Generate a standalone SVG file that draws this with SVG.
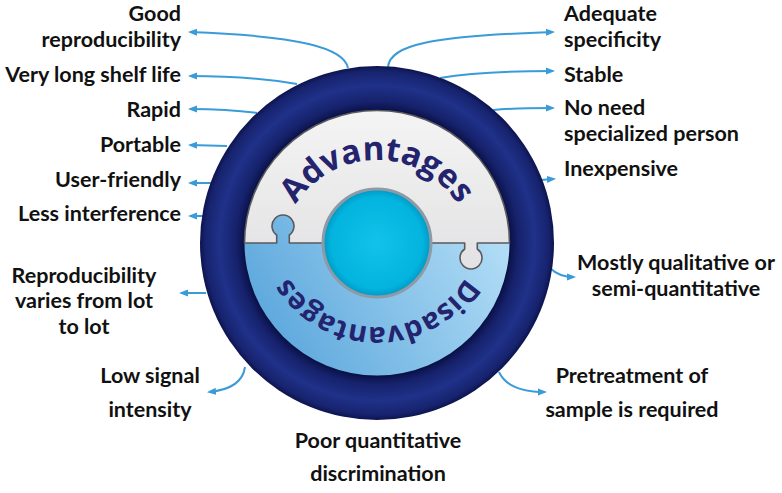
<svg xmlns="http://www.w3.org/2000/svg" width="782" height="493" viewBox="0 0 782 493">
<style>
.lbl{font-family:Lato,"Open Sans","Liberation Sans",sans-serif;font-weight:700;font-size:21.5px;fill:#111}
.e{text-anchor:end}
.m{text-anchor:middle}
.con{fill:none;stroke:#3a9bd9;stroke-width:2;marker-end:url(#ah)}
.big{font-family:"Open Sans","DejaVu Sans",sans-serif;font-weight:700;fill:#23236e}
</style>
<defs>
<marker id="ah" markerUnits="userSpaceOnUse" markerWidth="9" markerHeight="8" refX="7" refY="4" orient="auto">
<path d="M0,0.5 L9,4 L0,7.5 z" fill="#3a9bd9"/>
</marker>
<radialGradient id="gRing" gradientUnits="userSpaceOnUse" cx="377" cy="243" r="177">
<stop offset="0.74" stop-color="#080f42"/>
<stop offset="0.8" stop-color="#16226c"/>
<stop offset="0.89" stop-color="#1f3189"/>
<stop offset="0.97" stop-color="#17236e"/>
<stop offset="1" stop-color="#0c144e"/>
</radialGradient>
<linearGradient id="gBlue" gradientUnits="userSpaceOnUse" x1="500" y1="243" x2="280" y2="375">
<stop offset="0" stop-color="#b0dcf5"/>
<stop offset="1" stop-color="#5aa6dc"/>
</linearGradient>
<linearGradient id="gGray" x1="0" y1="0" x2="0" y2="1">
<stop offset="0" stop-color="#f4f4f4"/>
<stop offset="1" stop-color="#e2e2e4"/>
</linearGradient>
<radialGradient id="gCyan" cx="0.5" cy="0.5" r="0.5">
<stop offset="0" stop-color="#12c2ea"/>
<stop offset="0.85" stop-color="#02b4de"/>
<stop offset="1" stop-color="#0198c4"/>
</radialGradient>
<path id="pAdv" d="M281,256 A96,96 0 0 1 473,256"/>
<path id="pDis" d="M481,223 A104,104 0 0 1 273,223"/>
</defs>

<g id="connectors">
<path class="con" d="M348,68 C344,48 300,36 190,32"/>
<path class="con" d="M297,84 C262,78 225,76 190,76"/>
<path class="con" d="M257,113 C235,110 215,109 190,109"/>
<path class="con" d="M227,146 L190,145"/>
<path class="con" d="M212,183 L190,183"/>
<path class="con" d="M204,216 L190,216"/>
<path class="con" d="M206,293 L181,293"/>
<path class="con" d="M245,367 C243,382 230,390 209,392"/>
<path class="con" d="M388,67 C390,45 430,36 553,32"/>
<path class="con" d="M440,78 C470,73 510,71 553,71"/>
<path class="con" d="M493,110 C515,108 535,108 553,108"/>
<path class="con" d="M540,180 L554,179"/>
<path class="con" d="M550,268 C557,275 564,277 574,277"/>
<path class="con" d="M499,372 C505,385 520,392 545,392"/>
</g>

<g id="wheel">
<circle cx="377" cy="243" r="177" fill="url(#gRing)"/>
<circle cx="377" cy="243" r="134" fill="#0a1248"/>
<circle id="disadvantages-piece" cx="377" cy="243" r="132.5" fill="url(#gBlue)"/>
<path id="advantages-piece" d="M244.5,243 A132.5,132.5 0 0 1 509.5,243 L477.3,243 L477.3,249 A11,11 0 1 1 464.7,249 L464.7,243 L431,243 A54,54 0 0 0 323,243 L289.3,243 L289.3,235 A11,11 0 1 0 276.7,235 L276.7,243 Z" fill="url(#gGray)" stroke="#5a5a5e" stroke-width="1.6" stroke-linejoin="round"/>
<circle id="center" cx="377" cy="243" r="54" fill="url(#gCyan)" stroke="#8e9aa6" stroke-width="3"/>
<text class="big" font-size="33"><textPath href="#pAdv" startOffset="50%" text-anchor="middle">Advantages</textPath></text>
<text class="big" font-size="29"><textPath href="#pDis" startOffset="50%" text-anchor="middle">Disadvantages</textPath></text>
</g>

<g id="adv-left">
<text class="lbl e" x="181" y="21">Good</text>
<text class="lbl e" x="181" y="47">reproducibility</text>
<text class="lbl e" x="181" y="82">Very long shelf life</text>
<text class="lbl e" x="181" y="117">Rapid</text>
<text class="lbl e" x="181" y="152">Portable</text>
<text class="lbl e" x="181" y="187">User-friendly</text>
<text class="lbl e" x="181" y="221">Less interference</text>
</g>
<g id="adv-right">
<text class="lbl" x="564" y="21">Adequate</text>
<text class="lbl" x="564" y="47">specificity</text>
<text class="lbl" x="564" y="82">Stable</text>
<text class="lbl" x="564" y="115">No need</text>
<text class="lbl" x="564" y="141">specialized person</text>
<text class="lbl" x="564" y="176">Inexpensive</text>
</g>
<g id="dis-labels">
<text class="lbl m" x="676" y="270">Mostly qualitative or</text>
<text class="lbl m" x="676" y="296">semi-quantitative</text>
<text class="lbl m" x="84" y="283">Reproducibility</text>
<text class="lbl m" x="84" y="308">varies from lot</text>
<text class="lbl m" x="84" y="334">to lot</text>
<text class="lbl m" x="150" y="383">Low signal</text>
<text class="lbl m" x="150" y="417">intensity</text>
<text class="lbl m" x="632" y="383">Pretreatment of</text>
<text class="lbl m" x="632" y="417">sample is required</text>
<text class="lbl m" x="378" y="448">Poor quantitative</text>
<text class="lbl m" x="378" y="481">discrimination</text>
</g>
</svg>
